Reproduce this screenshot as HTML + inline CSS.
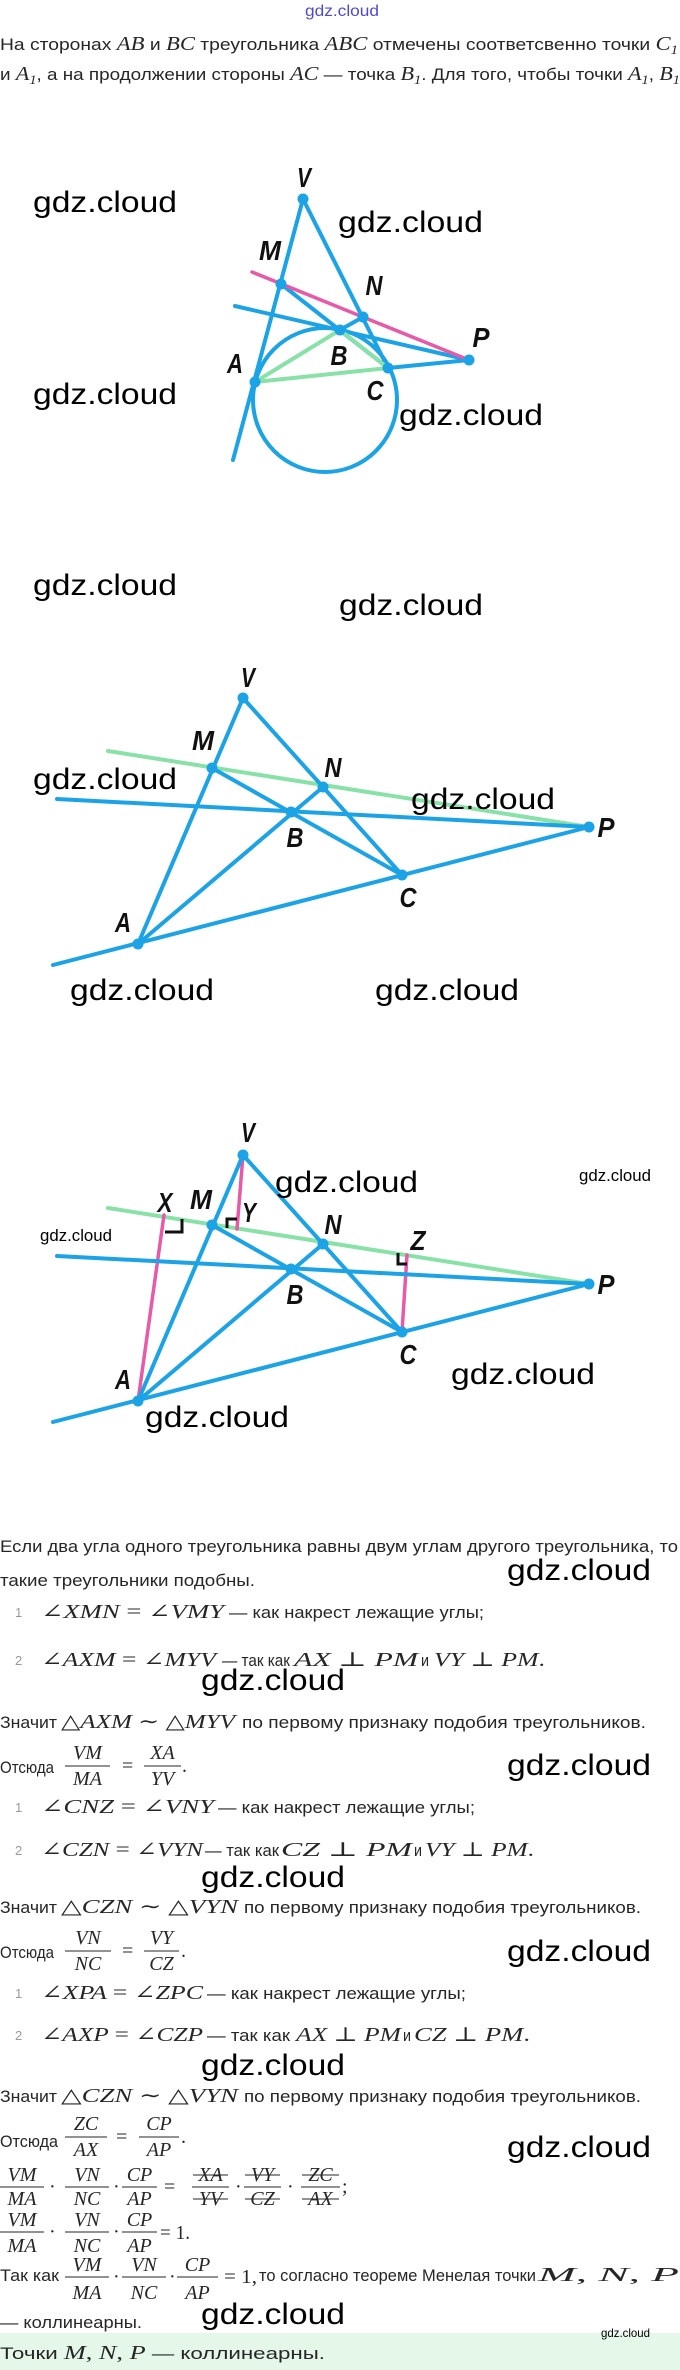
<!DOCTYPE html>
<html><head><meta charset="utf-8">
<style>
html,body{margin:0;padding:0;background:#fff;}
svg{display:block}
.t{font-family:"Liberation Sans",sans-serif;font-size:17px;fill:#262626}
.m{font-family:"Liberation Serif",serif;font-style:italic;font-size:20px;fill:#262626}
.r{font-family:"Liberation Serif","DejaVu Serif",serif;font-style:normal}
.sb{font-size:13px}
.n{font-family:"Liberation Sans",sans-serif;font-size:13px;fill:#9a9a9a}
.l{font-family:"Liberation Sans",sans-serif;font-weight:bold;font-style:italic;font-size:28px;fill:#111}
.w{font-family:"Liberation Sans",sans-serif;font-size:30px;fill:#000}
.ws{font-family:"Liberation Sans",sans-serif;font-size:17px;fill:#000}
.bl{stroke:#1ca3e6;stroke-width:4;stroke-linecap:round;fill:none}
.gr{stroke:#88e2a8;stroke-width:4;stroke-linecap:round;fill:none}
.pk{stroke:#e65aa8;stroke-width:3.5;stroke-linecap:round;fill:none}
.dt{fill:#1ca3e6}
.fb{stroke:#262626;stroke-width:1}
.ra{stroke:#111;stroke-width:3;fill:none}
</style></head>
<body>
<svg width="680" height="2370" viewBox="0 0 680 2370" xmlns="http://www.w3.org/2000/svg">
<rect width="680" height="2370" fill="#fff"/>

<!-- header -->
<text x="342" y="16" text-anchor="middle" font-family="Liberation Sans, sans-serif" font-size="16" fill="#4a4ad6" textLength="74" lengthAdjust="spacingAndGlyphs">gdz.cloud</text>
<text x="0" y="50" class="t" textLength="678" lengthAdjust="spacingAndGlyphs">На сторонах <tspan class="m">AB</tspan> и <tspan class="m">BC</tspan> треугольника <tspan class="m">ABC</tspan> отмечены соответсвенно точки <tspan class="m">C</tspan><tspan class="m sb" dy="4">1</tspan></text>
<text x="0" y="80" class="t" textLength="680" lengthAdjust="spacingAndGlyphs">и <tspan class="m">A</tspan><tspan class="m sb" dy="4">1</tspan><tspan dy="-4">, а на продолжении стороны </tspan><tspan class="m">AC</tspan> — точка <tspan class="m">B</tspan><tspan class="m sb" dy="4">1</tspan><tspan dy="-4">. Для того, чтобы точки </tspan><tspan class="m">A</tspan><tspan class="m sb" dy="4">1</tspan><tspan dy="-4">, </tspan><tspan class="m">B</tspan><tspan class="m sb" dy="4">1</tspan></text>

<!-- Diagram 1 -->
<circle cx="325" cy="400" r="72" class="bl"/>
<line x1="303" y1="199" x2="233" y2="460" class="bl"/>
<line x1="303" y1="199" x2="388" y2="368" class="bl"/>
<line x1="281" y1="284" x2="388" y2="368" class="bl"/>
<line x1="363" y1="317" x2="340" y2="330" class="bl"/>
<line x1="235" y1="306" x2="469" y2="360" class="bl"/>
<line x1="388" y1="368" x2="469" y2="360" class="bl"/>
<line x1="255" y1="382" x2="340" y2="330" class="gr"/>
<line x1="255" y1="382" x2="388" y2="368" class="gr"/>
<line x1="340" y1="330" x2="388" y2="368" class="gr"/>
<line x1="252" y1="272" x2="469" y2="360" class="pk"/>
<g class="dt">
<circle cx="303" cy="199" r="5.5"/><circle cx="281" cy="284" r="5.5"/><circle cx="363" cy="317" r="5.5"/>
<circle cx="340" cy="330" r="5.5"/><circle cx="388" cy="368" r="5.5"/><circle cx="255" cy="382" r="5.5"/>
<circle cx="469" cy="360" r="5.5"/>
</g>
<text class="l" x="304" y="187" text-anchor="middle" textLength="14" lengthAdjust="spacingAndGlyphs">V</text>
<text class="l" x="270" y="260" text-anchor="middle" textLength="22" lengthAdjust="spacingAndGlyphs">M</text>
<text class="l" x="374" y="295" text-anchor="middle" textLength="17" lengthAdjust="spacingAndGlyphs">N</text>
<text class="l" x="339" y="365" text-anchor="middle" textLength="17" lengthAdjust="spacingAndGlyphs">B</text>
<text class="l" x="235" y="373" text-anchor="middle" textLength="16" lengthAdjust="spacingAndGlyphs">A</text>
<text class="l" x="375" y="400" text-anchor="middle" textLength="17" lengthAdjust="spacingAndGlyphs">C</text>
<text class="l" x="481" y="347" text-anchor="middle" textLength="17" lengthAdjust="spacingAndGlyphs">P</text>
<text class="w" x="33" y="212" textLength="144" lengthAdjust="spacingAndGlyphs">gdz.cloud</text>
<text class="w" x="338" y="232" textLength="145" lengthAdjust="spacingAndGlyphs">gdz.cloud</text>
<text class="w" x="33" y="404" textLength="144" lengthAdjust="spacingAndGlyphs">gdz.cloud</text>
<text class="w" x="399" y="425" textLength="144" lengthAdjust="spacingAndGlyphs">gdz.cloud</text>

<!-- Diagram 2 -->
<g id="d2">
<line x1="108" y1="751" x2="589" y2="827" class="gr"/>
<line x1="243" y1="698" x2="138" y2="944" class="bl"/>
<line x1="243" y1="698" x2="402" y2="875" class="bl"/>
<line x1="212" y1="768" x2="402" y2="875" class="bl"/>
<line x1="138" y1="944" x2="323" y2="787" class="bl"/>
<line x1="57" y1="799" x2="589" y2="827" class="bl"/>
<line x1="53" y1="965" x2="589" y2="827" class="bl"/>
<g class="dt">
<circle cx="243" cy="698" r="5.5"/><circle cx="212" cy="768" r="5.5"/><circle cx="323" cy="787" r="5.5"/>
<circle cx="291" cy="812" r="5.5"/><circle cx="402" cy="875" r="5.5"/><circle cx="138" cy="944" r="5.5"/>
<circle cx="589" cy="827" r="5.5"/>
</g>
<text class="l" x="248" y="687" text-anchor="middle" textLength="14" lengthAdjust="spacingAndGlyphs">V</text>
<text class="l" x="203" y="750" text-anchor="middle" textLength="22" lengthAdjust="spacingAndGlyphs">M</text>
<text class="l" x="333" y="777" text-anchor="middle" textLength="17" lengthAdjust="spacingAndGlyphs">N</text>
<text class="l" x="295" y="847" text-anchor="middle" textLength="17" lengthAdjust="spacingAndGlyphs">B</text>
<text class="l" x="408" y="907" text-anchor="middle" textLength="17" lengthAdjust="spacingAndGlyphs">C</text>
<text class="l" x="123" y="932" text-anchor="middle" textLength="16" lengthAdjust="spacingAndGlyphs">A</text>
<text class="l" x="606" y="837" text-anchor="middle" textLength="17" lengthAdjust="spacingAndGlyphs">P</text>
</g>
<text class="w" x="33" y="595" textLength="144" lengthAdjust="spacingAndGlyphs">gdz.cloud</text>
<text class="w" x="339" y="615" textLength="144" lengthAdjust="spacingAndGlyphs">gdz.cloud</text>
<text class="w" x="33" y="789" textLength="144" lengthAdjust="spacingAndGlyphs">gdz.cloud</text>
<text class="w" x="411" y="809" textLength="144" lengthAdjust="spacingAndGlyphs">gdz.cloud</text>
<text class="w" x="70" y="1000" textLength="144" lengthAdjust="spacingAndGlyphs">gdz.cloud</text>
<text class="w" x="375" y="1000" textLength="144" lengthAdjust="spacingAndGlyphs">gdz.cloud</text>

<!-- Diagram 3 -->
<g transform="translate(0,457)">
<line x1="108" y1="751" x2="589" y2="827" class="gr"/>
<line x1="164" y1="758" x2="138" y2="944" class="pk"/>
<line x1="243" y1="698" x2="237" y2="772" class="pk"/>
<line x1="407" y1="798" x2="402" y2="875" class="pk"/>
<line x1="243" y1="698" x2="138" y2="944" class="bl"/>
<line x1="243" y1="698" x2="402" y2="875" class="bl"/>
<line x1="212" y1="768" x2="402" y2="875" class="bl"/>
<line x1="138" y1="944" x2="323" y2="787" class="bl"/>
<line x1="57" y1="799" x2="589" y2="827" class="bl"/>
<line x1="53" y1="965" x2="589" y2="827" class="bl"/>
<g class="dt">
<circle cx="243" cy="698" r="5.5"/><circle cx="212" cy="768" r="5.5"/><circle cx="323" cy="787" r="5.5"/>
<circle cx="291" cy="812" r="5.5"/><circle cx="402" cy="875" r="5.5"/><circle cx="138" cy="944" r="5.5"/>
<circle cx="589" cy="827" r="5.5"/>
</g>
<polyline points="182,762 182,775 165,775" class="ra"/>
<polyline points="237,762 227,762 227,771" class="ra"/>
<polyline points="398,796 398,807 407,807" class="ra"/>
<text class="l" x="248" y="685" text-anchor="middle" textLength="14" lengthAdjust="spacingAndGlyphs">V</text>
<text class="l" x="165" y="755" text-anchor="middle" textLength="15" lengthAdjust="spacingAndGlyphs">X</text>
<text class="l" x="201" y="752" text-anchor="middle" textLength="22" lengthAdjust="spacingAndGlyphs">M</text>
<text class="l" x="249" y="765" text-anchor="middle" textLength="14" lengthAdjust="spacingAndGlyphs">Y</text>
<text class="l" x="333" y="777" text-anchor="middle" textLength="17" lengthAdjust="spacingAndGlyphs">N</text>
<text class="l" x="418" y="793" text-anchor="middle" textLength="15" lengthAdjust="spacingAndGlyphs">Z</text>
<text class="l" x="295" y="847" text-anchor="middle" textLength="17" lengthAdjust="spacingAndGlyphs">B</text>
<text class="l" x="408" y="907" text-anchor="middle" textLength="17" lengthAdjust="spacingAndGlyphs">C</text>
<text class="l" x="123" y="932" text-anchor="middle" textLength="16" lengthAdjust="spacingAndGlyphs">A</text>
<text class="l" x="606" y="837" text-anchor="middle" textLength="17" lengthAdjust="spacingAndGlyphs">P</text>
</g>
<text class="w" x="275" y="1192" textLength="143" lengthAdjust="spacingAndGlyphs">gdz.cloud</text>
<text class="ws" x="579" y="1181" textLength="72" lengthAdjust="spacingAndGlyphs">gdz.cloud</text>
<text class="ws" x="40" y="1241" textLength="72" lengthAdjust="spacingAndGlyphs">gdz.cloud</text>
<text class="w" x="451" y="1384" textLength="144" lengthAdjust="spacingAndGlyphs">gdz.cloud</text>
<text class="w" x="145" y="1427" textLength="144" lengthAdjust="spacingAndGlyphs">gdz.cloud</text>

<!-- Text section -->
<text class="t" x="0" y="1552" textLength="678" lengthAdjust="spacingAndGlyphs">Если два угла одного треугольника равны двум углам другого треугольника, то</text>
<text class="t" x="0" y="1586" textLength="255" lengthAdjust="spacingAndGlyphs">такие треугольники подобны.</text>
<text class="w" x="507" y="1580" textLength="144" lengthAdjust="spacingAndGlyphs">gdz.cloud</text>

<text class="n" x="15" y="1617">1</text>
<text class="m" x="41" y="1618" textLength="183" lengthAdjust="spacingAndGlyphs"><tspan class="r">∠</tspan>XMN <tspan class="r">= ∠</tspan>VMY</text>
<text class="t" x="229" y="1618" textLength="255" lengthAdjust="spacingAndGlyphs">— как накрест лежащие углы;</text>

<text class="n" x="15" y="1665">2</text>
<text class="m" x="41" y="1666" textLength="175" lengthAdjust="spacingAndGlyphs"><tspan class="r">∠</tspan>AXM <tspan class="r">= ∠</tspan>MYV</text>
<text class="t" x="222" y="1666" textLength="68" lengthAdjust="spacingAndGlyphs">— так как</text>
<text class="m" x="294" y="1666" textLength="124" lengthAdjust="spacingAndGlyphs">AX <tspan class="r">⊥</tspan> PM</text>
<text class="t" x="421" y="1666" textLength="8" lengthAdjust="spacingAndGlyphs">и</text>
<text class="m" x="434" y="1666" textLength="111" lengthAdjust="spacingAndGlyphs">VY <tspan class="r">⊥</tspan> PM<tspan class="r">.</tspan></text>
<text class="w" x="201" y="1690" textLength="144" lengthAdjust="spacingAndGlyphs">gdz.cloud</text>

<text class="t" x="0" y="1728" textLength="57" lengthAdjust="spacingAndGlyphs">Значит</text>
<text class="m" x="61" y="1728" textLength="174" lengthAdjust="spacingAndGlyphs"><tspan class="r">△</tspan>AXM <tspan class="r">∼ △</tspan>MYV</text>
<text class="t" x="242" y="1728" textLength="404" lengthAdjust="spacingAndGlyphs">по первому признаку подобия треугольников.</text>

<text class="t" x="0" y="1773" textLength="54" lengthAdjust="spacingAndGlyphs">Отсюда</text>
<text class="m" x="87.5" y="1759" text-anchor="middle">VM</text>
<line x1="65" y1="1766" x2="110" y2="1766" class="fb"/>
<text class="m" x="87.5" y="1785" text-anchor="middle">MA</text>
<text class="m r" x="122" y="1772">=</text>
<text class="m" x="162.5" y="1759" text-anchor="middle">XA</text>
<line x1="144" y1="1766" x2="181" y2="1766" class="fb"/>
<text class="m" x="162.5" y="1785" text-anchor="middle">YV</text>
<text class="m r" x="182" y="1772">.</text>
<text class="w" x="507" y="1775" textLength="144" lengthAdjust="spacingAndGlyphs">gdz.cloud</text>

<text class="n" x="15" y="1812">1</text>
<text class="m" x="41" y="1813" textLength="173" lengthAdjust="spacingAndGlyphs"><tspan class="r">∠</tspan>CNZ <tspan class="r">= ∠</tspan>VNY</text>
<text class="t" x="218" y="1813" textLength="257" lengthAdjust="spacingAndGlyphs">— как накрест лежащие углы;</text>

<text class="n" x="15" y="1855">2</text>
<text class="m" x="41" y="1856" textLength="162" lengthAdjust="spacingAndGlyphs"><tspan class="r">∠</tspan>CZN <tspan class="r">= ∠</tspan>VYN</text>
<text class="t" x="205" y="1856" textLength="74" lengthAdjust="spacingAndGlyphs">— так как</text>
<text class="m" x="281" y="1856" textLength="131" lengthAdjust="spacingAndGlyphs">CZ <tspan class="r">⊥</tspan> PM</text>
<text class="t" x="414" y="1856" textLength="8" lengthAdjust="spacingAndGlyphs">и</text>
<text class="m" x="425" y="1856" textLength="109" lengthAdjust="spacingAndGlyphs">VY <tspan class="r">⊥</tspan> PM<tspan class="r">.</tspan></text>
<text class="w" x="201" y="1887" textLength="144" lengthAdjust="spacingAndGlyphs">gdz.cloud</text>

<text class="t" x="0" y="1913" textLength="57" lengthAdjust="spacingAndGlyphs">Значит</text>
<text class="m" x="61" y="1913" textLength="177" lengthAdjust="spacingAndGlyphs"><tspan class="r">△</tspan>CZN <tspan class="r">∼ △</tspan>VYN</text>
<text class="t" x="244" y="1913" textLength="397" lengthAdjust="spacingAndGlyphs">по первому признаку подобия треугольников.</text>

<text class="t" x="0" y="1958" textLength="54" lengthAdjust="spacingAndGlyphs">Отсюда</text>
<text class="m" x="88" y="1944" text-anchor="middle">VN</text>
<line x1="65" y1="1951" x2="111" y2="1951" class="fb"/>
<text class="m" x="88" y="1970" text-anchor="middle">NC</text>
<text class="m r" x="122" y="1957">=</text>
<text class="m" x="161.5" y="1944" text-anchor="middle">VY</text>
<line x1="144" y1="1951" x2="179" y2="1951" class="fb"/>
<text class="m" x="161.5" y="1970" text-anchor="middle">CZ</text>
<text class="m r" x="181" y="1957">.</text>
<text class="w" x="507" y="1961" textLength="144" lengthAdjust="spacingAndGlyphs">gdz.cloud</text>

<text class="n" x="15" y="1998">1</text>
<text class="m" x="41" y="1999" textLength="162" lengthAdjust="spacingAndGlyphs"><tspan class="r">∠</tspan>XPA <tspan class="r">= ∠</tspan>ZPC</text>
<text class="t" x="207" y="1999" textLength="259" lengthAdjust="spacingAndGlyphs">— как накрест лежащие углы;</text>

<text class="n" x="15" y="2040">2</text>
<text class="m" x="41" y="2041" textLength="162" lengthAdjust="spacingAndGlyphs"><tspan class="r">∠</tspan>AXP <tspan class="r">= ∠</tspan>CZP</text>
<text class="t" x="207" y="2041" textLength="83" lengthAdjust="spacingAndGlyphs">— так как</text>
<text class="m" x="296" y="2041" textLength="105" lengthAdjust="spacingAndGlyphs">AX <tspan class="r">⊥</tspan> PM</text>
<text class="t" x="403" y="2041" textLength="8" lengthAdjust="spacingAndGlyphs">и</text>
<text class="m" x="414" y="2041" textLength="116" lengthAdjust="spacingAndGlyphs">CZ <tspan class="r">⊥</tspan> PM<tspan class="r">.</tspan></text>
<text class="w" x="201" y="2075" textLength="144" lengthAdjust="spacingAndGlyphs">gdz.cloud</text>

<text class="t" x="0" y="2102" textLength="57" lengthAdjust="spacingAndGlyphs">Значит</text>
<text class="m" x="61" y="2102" textLength="177" lengthAdjust="spacingAndGlyphs"><tspan class="r">△</tspan>CZN <tspan class="r">∼ △</tspan>VYN</text>
<text class="t" x="244" y="2102" textLength="397" lengthAdjust="spacingAndGlyphs">по первому признаку подобия треугольников.</text>

<text class="t" x="0" y="2147" textLength="58" lengthAdjust="spacingAndGlyphs">Отсюда</text>
<text class="m" x="86" y="2130" text-anchor="middle">ZC</text>
<line x1="65" y1="2137" x2="107" y2="2137" class="fb"/>
<text class="m" x="86" y="2156" text-anchor="middle">AX</text>
<text class="m r" x="116" y="2143">=</text>
<text class="m" x="159" y="2130" text-anchor="middle">CP</text>
<line x1="139" y1="2137" x2="179" y2="2137" class="fb"/>
<text class="m" x="159" y="2156" text-anchor="middle">AP</text>
<text class="m r" x="181" y="2143">.</text>
<text class="w" x="507" y="2157" textLength="144" lengthAdjust="spacingAndGlyphs">gdz.cloud</text>

<!-- big eq line 1 -->
<text class="m" x="22" y="2181" text-anchor="middle">VM</text>
<line x1="0" y1="2187" x2="44" y2="2187" class="fb"/>
<text class="m" x="22" y="2205" text-anchor="middle">MA</text>
<text class="m r" x="49" y="2193">·</text>
<text class="m" x="87" y="2181" text-anchor="middle">VN</text>
<line x1="65" y1="2187" x2="109" y2="2187" class="fb"/>
<text class="m" x="87" y="2205" text-anchor="middle">NC</text>
<text class="m r" x="113" y="2193">·</text>
<text class="m" x="139.5" y="2181" text-anchor="middle">CP</text>
<line x1="122" y1="2187" x2="157" y2="2187" class="fb"/>
<text class="m" x="139.5" y="2205" text-anchor="middle">AP</text>
<text class="m r" x="164" y="2193">=</text>
<text class="m" x="210.5" y="2181" text-anchor="middle">XA</text>
<line x1="192" y1="2187" x2="229" y2="2187" class="fb"/>
<text class="m" x="210.5" y="2205" text-anchor="middle">YV</text>
<line x1="193" y1="2175" x2="228" y2="2175" class="fb"/>
<line x1="193" y1="2199" x2="228" y2="2199" class="fb"/>
<text class="m r" x="235" y="2193">·</text>
<text class="m" x="262.5" y="2181" text-anchor="middle">VY</text>
<line x1="244" y1="2187" x2="281" y2="2187" class="fb"/>
<text class="m" x="262.5" y="2205" text-anchor="middle">CZ</text>
<line x1="245" y1="2175" x2="280" y2="2175" class="fb"/>
<line x1="245" y1="2199" x2="280" y2="2199" class="fb"/>
<text class="m r" x="287" y="2193">·</text>
<text class="m" x="320.5" y="2181" text-anchor="middle">ZC</text>
<line x1="301" y1="2187" x2="340" y2="2187" class="fb"/>
<text class="m" x="320.5" y="2205" text-anchor="middle">AX</text>
<line x1="302" y1="2175" x2="339" y2="2175" class="fb"/>
<line x1="302" y1="2199" x2="339" y2="2199" class="fb"/>
<text class="m r" x="342" y="2193">;</text>

<!-- big eq line 2 -->
<text class="m" x="22" y="2226" text-anchor="middle">VM</text>
<line x1="0" y1="2232" x2="44" y2="2232" class="fb"/>
<text class="m" x="22" y="2252" text-anchor="middle">MA</text>
<text class="m r" x="49" y="2238">·</text>
<text class="m" x="87" y="2226" text-anchor="middle">VN</text>
<line x1="65" y1="2232" x2="109" y2="2232" class="fb"/>
<text class="m" x="87" y="2252" text-anchor="middle">NC</text>
<text class="m r" x="113" y="2238">·</text>
<text class="m" x="139.5" y="2226" text-anchor="middle">CP</text>
<line x1="122" y1="2232" x2="157" y2="2232" class="fb"/>
<text class="m" x="139.5" y="2252" text-anchor="middle">AP</text>
<text class="m r" x="160" y="2239" textLength="30" lengthAdjust="spacingAndGlyphs">= 1.</text>

<!-- line 3 -->
<text class="t" x="0" y="2281" textLength="59" lengthAdjust="spacingAndGlyphs">Так как</text>
<text class="m" x="87" y="2271" text-anchor="middle">VM</text>
<line x1="65" y1="2277" x2="109" y2="2277" class="fb"/>
<text class="m" x="87" y="2299" text-anchor="middle">MA</text>
<text class="m r" x="113" y="2283">·</text>
<text class="m" x="144" y="2271" text-anchor="middle">VN</text>
<line x1="122" y1="2277" x2="166" y2="2277" class="fb"/>
<text class="m" x="144" y="2299" text-anchor="middle">NC</text>
<text class="m r" x="169" y="2283">·</text>
<text class="m" x="197.5" y="2271" text-anchor="middle">CP</text>
<line x1="177" y1="2277" x2="218" y2="2277" class="fb"/>
<text class="m" x="197.5" y="2299" text-anchor="middle">AP</text>
<text class="m r" x="224" y="2283" textLength="33" lengthAdjust="spacingAndGlyphs">= 1,</text>
<text class="t" x="259" y="2281" textLength="277" lengthAdjust="spacingAndGlyphs">то согласно теореме Менелая точки</text>
<text class="m" x="538" y="2281" textLength="141" lengthAdjust="spacingAndGlyphs">M<tspan class="r">,</tspan> N<tspan class="r">,</tspan> P</text>
<text class="t" x="0" y="2328" textLength="142" lengthAdjust="spacingAndGlyphs">— коллинеарны.</text>
<text class="w" x="201" y="2324" textLength="144" lengthAdjust="spacingAndGlyphs">gdz.cloud</text>

<rect x="0" y="2333" width="680" height="37" fill="#e4f7e9"/>
<text class="ws" x="601" y="2337" font-size="12" style="font-size:12px" textLength="49" lengthAdjust="spacingAndGlyphs">gdz.cloud</text>
<text class="t" x="0" y="2359" textLength="325" lengthAdjust="spacingAndGlyphs">Точки <tspan class="m">M</tspan><tspan class="m r">, </tspan><tspan class="m">N</tspan><tspan class="m r">, </tspan><tspan class="m">P</tspan> — коллинеарны.</text>
</svg>
</body></html>
